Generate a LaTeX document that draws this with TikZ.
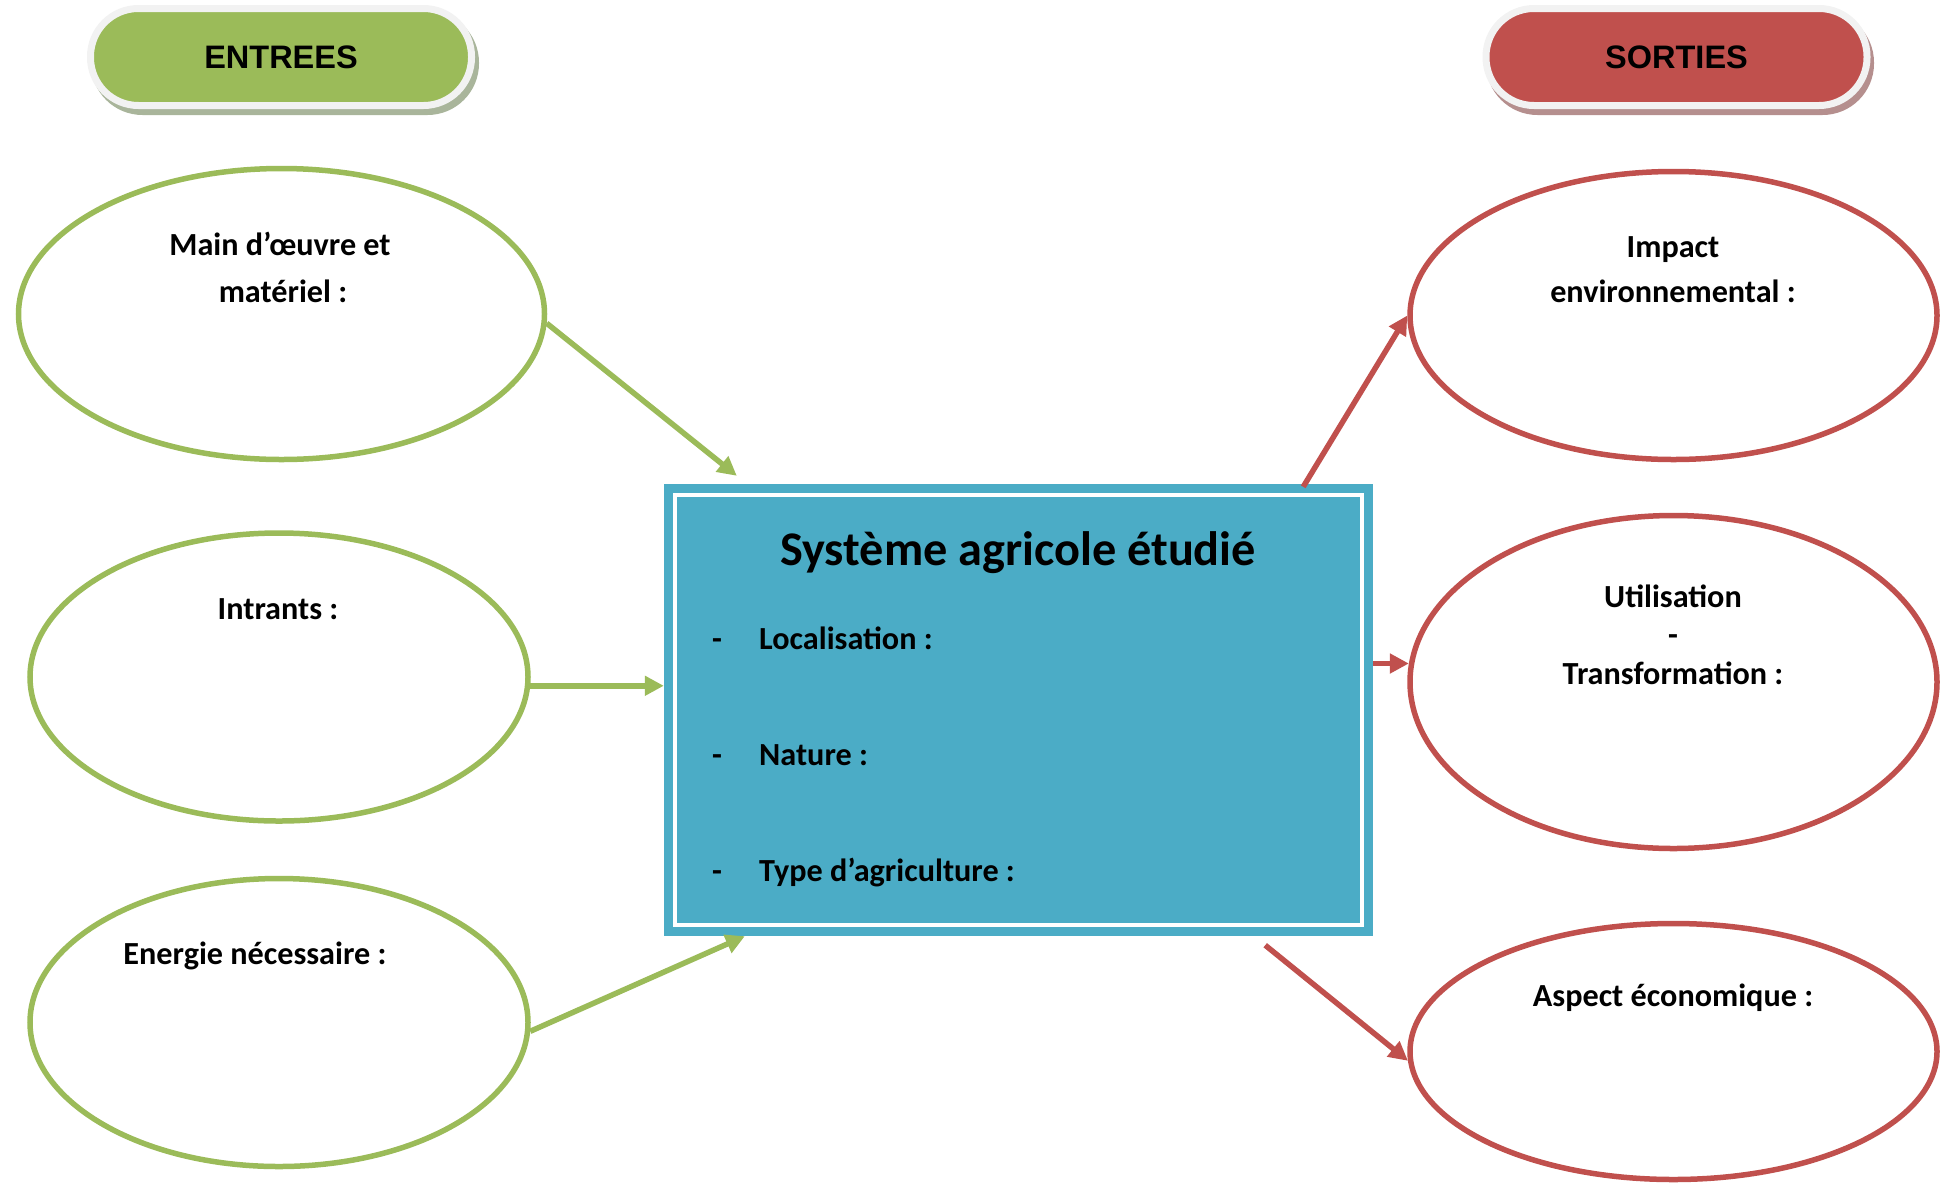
\documentclass[tikz,border=0pt]{standalone}
\usepackage{fontspec}
\setmainfont{Carlito}
\newfontfamily\pillfont{Liberation Sans}
\usetikzlibrary{shapes.geometric,arrows.meta,calc}

\definecolor{inGreen}{HTML}{9BBB59}
\definecolor{outRed}{HTML}{C0504D}
\definecolor{sysTeal}{HTML}{4BACC6}
\definecolor{ringGray}{HTML}{F2F2F2}
\definecolor{greenShadow}{HTML}{A9B59B}
\definecolor{redShadow}{HTML}{B58F8E}

\begin{document}
\begin{tikzpicture}[x=1pt,y=-1pt,
  pill/.style={rectangle, rounded corners=48pt, minimum width=381pt,
    minimum height=97pt, inner sep=0pt, line width=7pt, draw=ringGray},
  pilltext/.style={font=\pillfont\fontsize{32.5}{36}\selectfont\bfseries},
  inbubble/.style={ellipse, draw=inGreen, line width=5.5pt, inner sep=0pt},
  outbubble/.style={ellipse, draw=outRed, line width=5.5pt, inner sep=0pt},
  txt/.style={font=\fontsize{32.2}{38}\selectfont\bfseries, anchor=base, inner sep=0pt},
  titletxt/.style={font=\fontsize{48.3}{56}\selectfont\bfseries, anchor=base, inner sep=0pt},
  inarrow/.style={draw=inGreen, line width=5.5pt, -{Triangle[length=19pt,width=19pt]}},
  outarrow/.style={draw=outRed, line width=5.5pt, -{Triangle[length=19pt,width=19pt]}},
]
\useasboundingbox (0,0) rectangle (1948,1184);

% header pills with their drop shadows
\node[pill, draw=greenShadow, fill=greenShadow] (entreesShadow) at (285,63) {};
\node[pill, fill=inGreen, pilltext] (entrees) at (281,57) {\raisebox{-1pt}{ENTREES}};
\node[pill, draw=redShadow, fill=redShadow] (sortiesShadow) at (1680,63) {};
\node[pill, fill=outRed, pilltext] (sorties) at (1676.5,57) {\raisebox{-1pt}{SORTIES}};

% central system box
\node[rectangle, fill=sysTeal, minimum width=709pt, minimum height=452pt,
      inner sep=0pt] (box) at (1018.5,710) {};
\draw[white, line width=4pt] ($(box.north west)+(11,11)$) rectangle ($(box.south east)+(-11,-11)$);

\node[titletxt] (title) at (1018,565) {Système agricole étudié};
\node[txt] (d1) at (717,649) {-};
\node[txt, anchor=base west] (loc) at (759,649) {Localisation :};
\node[txt] (d2) at (717,765) {-};
\node[txt, anchor=base west] (nat) at (759,765) {Nature :};
\node[txt] (d3) at (717,881) {-};
\node[txt, anchor=base west] (typ) at (759,881) {Type d’agriculture :};

% input bubbles
\node[inbubble, minimum width=526pt, minimum height=291pt] (L1) at (281.5,314) {};
\node[inbubble, minimum width=498pt, minimum height=288pt] (L2) at (279,677) {};
\node[inbubble, minimum width=498pt, minimum height=288pt] (L3) at (279,1022.5) {};

\node[txt] (l1a) at (280,255) {Main d’œuvre et};
\node[txt] (l1b) at (283,302) {matériel :};
\node[txt] (l2a) at (278,619) {Intrants :};
\node[txt] (l3a) at (255,964) {Energie nécessaire :};

% output bubbles
\node[outbubble, minimum width=527pt, minimum height=288pt] (R1) at (1673.5,315.5) {};
\node[outbubble, minimum width=527pt, minimum height=333pt] (R2) at (1673.5,682) {};
\node[outbubble, minimum width=527pt, minimum height=256pt] (R3) at (1673.5,1051.5) {};

\node[txt] (r1a) at (1673,257) {Impact};
\node[txt] (r1b) at (1673,302) {environnemental :};
\node[txt] (r2a) at (1673,607) {Utilisation};
\node[txt] (r2b) at (1673,645) {-};
\node[txt] (r2c) at (1673,684) {Transformation :};
\node[txt] (r3a) at (1673,1006) {Aspect économique :};

% flows into the system
\draw[inarrow] (L1.-2) -- ($(box.north west)+(73,-8)$);
\draw[inarrow] (L2.-2) -- (L2.-2 -| box.west);
\draw[inarrow] (L3.-2) -- ($(box.south west)+(81,0)$);

% flows out of the system
\draw[outarrow] ($(box.north east)+(-70,3)$) -- (R1.west);
\draw[outarrow] (R2.176 -| box.east) -- (R2.176);
\draw[outarrow] ($(box.south east)+(-108,9)$) -- (R3.182);
\end{tikzpicture}
\end{document}
